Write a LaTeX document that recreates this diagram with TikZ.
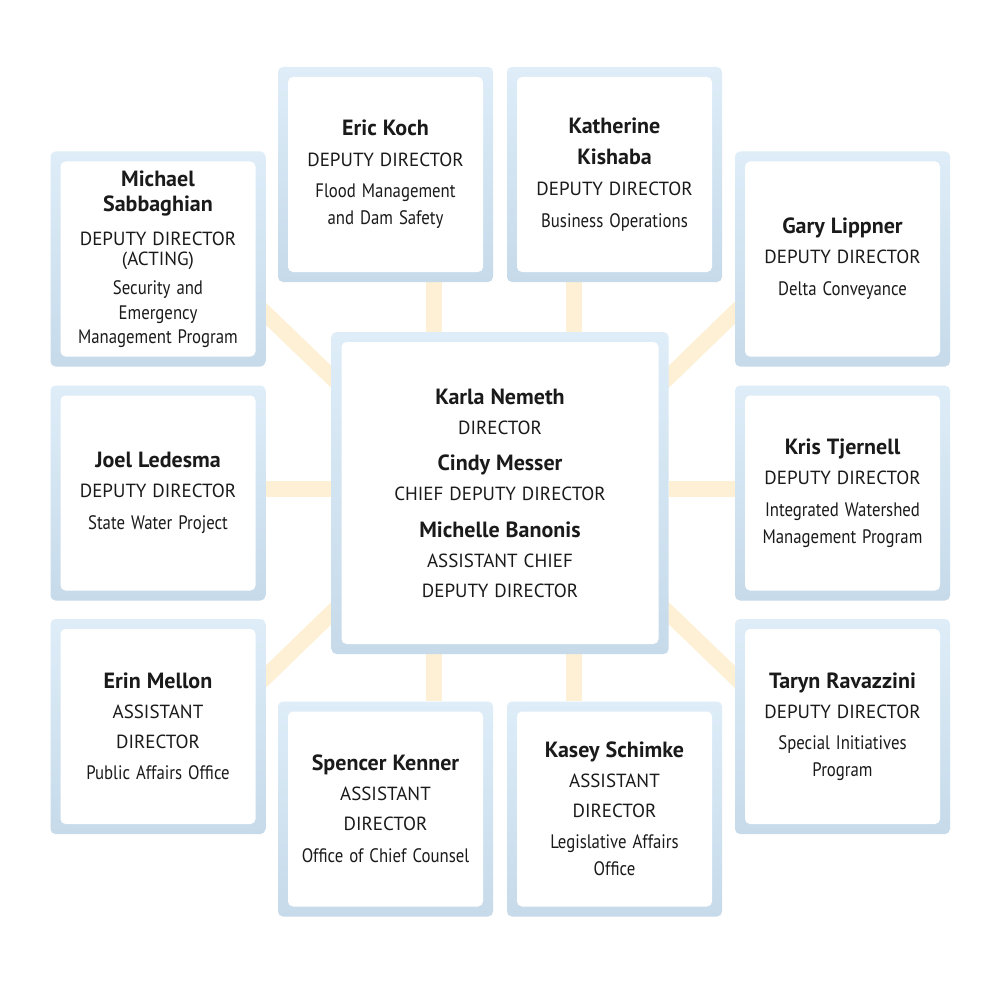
\documentclass[tikz,border=0pt]{standalone}
\usepackage{fontspec}
\setmainfont{PT Sans}
\newfontfamily\unitfont[FakeStretch=0.86]{PT Sans}
\usepackage{xcolor}
\usetikzlibrary{calc}
\definecolor{rimtop}{HTML}{DEEDF8}
\definecolor{rimbot}{HTML}{C6DAEA}
\definecolor{linkc}{HTML}{FDF0D5}
\definecolor{ink}{HTML}{1A1A1A}
\newcommand{\pname}[1]{{\fontsize{22}{27}\selectfont\bfseries #1}}
\newcommand{\ptitle}[1]{{\fontsize{19}{27}\selectfont #1}}
\newcommand{\punit}[1]{{\unitfont\fontsize{19.5}{27}\selectfont #1}}
\pgfdeclarelayer{bg}
\pgfsetlayers{bg,main}
\tikzset{
  card/.style={rectangle, rounded corners=5pt, top color=rimtop, bottom color=rimbot,
    draw=none, minimum width=215pt, minimum height=215pt, inner sep=0pt,
    text width=200pt, align=center, text=ink, font=\fontsize{18}{27}\selectfont,
    path picture={\fill[white] ([xshift=10pt,yshift=10pt]path picture bounding box.south west)
      rectangle ([xshift=-10pt,yshift=-10pt]path picture bounding box.north east);}},
  chief/.style={card, minimum width=337pt, minimum height=322pt, text width=310pt},
  bar/.style={draw=linkc, line width=16pt},
}

\begin{document}
\begin{tikzpicture}[x=1pt, y=-1pt]
  \useasboundingbox (0,0) rectangle (1000,1000);
  % director's office
  \node[chief] (dir) at (500,493) {\pname{Karla Nemeth}\\[3pt]\ptitle{DIRECTOR}\\[9pt]
    \pname{Cindy Messer}\\[3pt]\ptitle{CHIEF DEPUTY DIRECTOR}\\[10pt]
    \pname{Michelle Banonis}\\[3pt]\ptitle{ASSISTANT CHIEF}\\[3pt]\ptitle{DEPUTY DIRECTOR}};
  % top row
  \node[card] (koch) at (385.5,174.5) {\pname{Eric Koch}\\[4pt]\ptitle{DEPUTY DIRECTOR}\\[4pt]
    \punit{Flood Management}\\\punit{and Dam Safety}};
  \node[card] (kishaba) at (614.5,174.5) {\pname{Katherine}\\[4pt]\pname{Kishaba}\\[4pt]
    \ptitle{DEPUTY DIRECTOR}\\[5pt]\punit{Business Operations}};
  % left column
  \node[card] (sabb) at (158,259) {\pname{Michael}\\[-2pt]\pname{Sabbaghian}\\[7pt]
    \ptitle{DEPUTY DIRECTOR}\\[-7pt]\ptitle{(ACTING)}\\[2pt]\punit{Security and}\\[-2pt]
    \punit{Emergency}\\[-3pt]\punit{Management Program}};
  \node[card] (ledesma) at (158,493) {\pname{Joel Ledesma}\\[3pt]\ptitle{DEPUTY DIRECTOR}\\[5pt]
    \punit{State Water Project}};
  \node[card] (mellon) at (158,726.5) {\pname{Erin Mellon}\\[3pt]\ptitle{ASSISTANT}\\[3pt]
    \ptitle{DIRECTOR}\\[4pt]\punit{Public Affairs Office}};
  % right column
  \node[card] (lippner) at (842.5,259) {\pname{Gary Lippner}\\[3pt]\ptitle{DEPUTY DIRECTOR}\\[5pt]
    \punit{Delta Conveyance}};
  \node[card] (tjernell) at (842.5,493) {\pname{Kris Tjernell}\\[3pt]\ptitle{DEPUTY DIRECTOR}\\[5pt]
    \punit{Integrated Watershed}\\\punit{Management Program}};
  \node[card] (ravazzini) at (842.5,726.5) {\pname{Taryn Ravazzini}\\[3pt]\ptitle{DEPUTY DIRECTOR}\\[4pt]
    \punit{Special Initiatives}\\\punit{Program}};
  % bottom row
  \node[card] (kenner) at (385.5,809) {\pname{Spencer Kenner}\\[3pt]\ptitle{ASSISTANT}\\[3pt]
    \ptitle{DIRECTOR}\\[5pt]\punit{Office of Chief Counsel}};
  \node[card] (schimke) at (614.5,809) {\pname{Kasey Schimke}\\[3pt]\ptitle{ASSISTANT}\\[3pt]
    \ptitle{DIRECTOR}\\[4pt]\punit{Legislative Affairs}\\\punit{Office}};
  % links behind the cards
  \coordinate (lx) at (434,0);
  \coordinate (rx) at (574,0);
  \coordinate (my) at (0,489);
  \begin{pgfonlayer}{bg}
    \fill[white] (0,0) rectangle (1000,1000);
    \draw[bar] (koch.south -| lx) -- (dir.north -| lx);
    \draw[bar] (kishaba.south -| rx) -- (dir.north -| rx);
    \draw[bar] (kenner.north -| lx) -- (dir.south -| lx);
    \draw[bar] (schimke.north -| rx) -- (dir.south -| rx);
    \draw[bar] (ledesma.east |- my) -- (dir.west |- my);
    \draw[bar] (tjernell.west |- my) -- (dir.east |- my);
    \draw[bar, shorten <=-14pt, shorten >=-14pt] ($(sabb.south east)+(0,-53)$) -- ($(dir.north west)+(0,45)$);
    \draw[bar, shorten <=-14pt, shorten >=-14pt] ($(mellon.north east)+(0,58)$) -- ($(dir.south west)+(0,-41)$);
    \draw[bar, shorten <=-14pt, shorten >=-14pt] ($(lippner.south west)+(0,-54)$) -- ($(dir.north east)+(0,45)$);
    \draw[bar, shorten <=-14pt, shorten >=-14pt] ($(ravazzini.north west)+(0,58)$) -- ($(dir.south east)+(0,-41)$);
  \end{pgfonlayer}
\end{tikzpicture}
\end{document}
